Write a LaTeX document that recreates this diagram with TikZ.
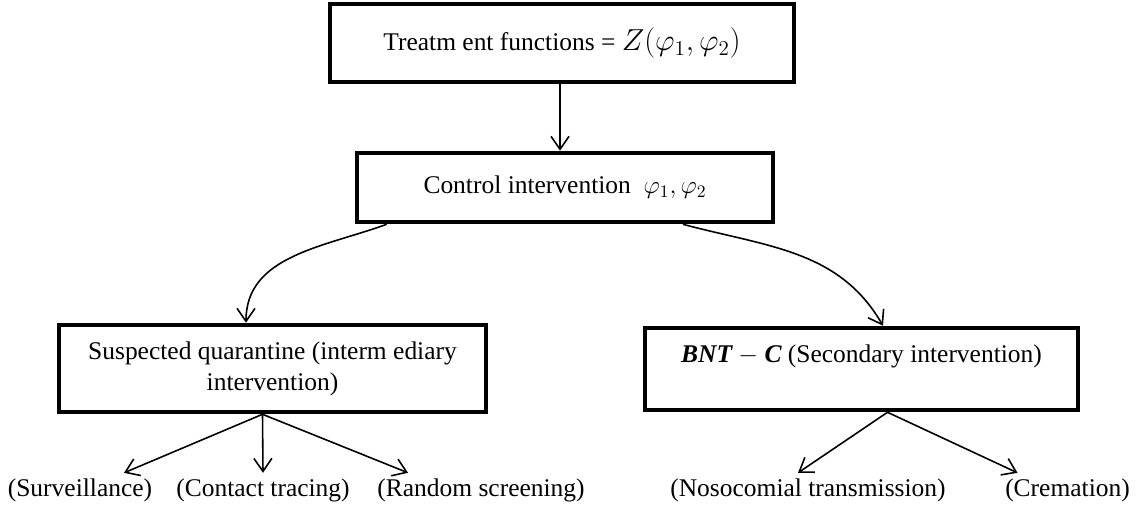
\documentclass[tikz,border=0pt]{standalone}
\usepackage{fontspec}
\setmainfont{Liberation Serif}
\usepackage{amsmath}
\usetikzlibrary{arrows.meta}

\begin{document}
\begin{tikzpicture}[font=\fontsize{14.5}{17.5}\selectfont]

	\tikzset{box/.style = {shape=rectangle,draw,line width=2.6pt,align=center}}
	\tikzset{edge/.style = {-{Straight Barb[length=2.6mm,width=3.6mm]},line width=0.9pt}}
	\tikzset{leaf/.style = {inner sep=3pt}}

	\useasboundingbox (0,0) rectangle (22.84,-10.16);

	% boxes
	\node[box,minimum width=9.28cm,minimum height=1.56cm] (Treat) at (11.24,-0.86) {Treatm ent functions = {\fontsize{18}{20}\selectfont$Z(\varphi_1,\varphi_2)$}};
	\node[box,minimum width=8.32cm,minimum height=1.38cm] (Control) at (11.30,-3.75) {Control intervention \ $\varphi_1,\varphi_2$};
	\node[box,minimum width=8.54cm,minimum height=1.74cm] (Quar) at (5.45,-7.37) {Suspected quarantine (interm ediary\\ intervention)};
	\node[box,minimum width=8.66cm,minimum height=1.64cm] (Second) at (17.23,-7.38) {{\bfseries\itshape BNT} $-$ {\bfseries\itshape C} (Secondary intervention)\\ \mbox{}};

	% leaves
	\node[leaf] (Surv) at (1.60,-9.80) {(Surveillance)};
	\node[leaf] (Contact) at (5.26,-9.80) {(Contact tracing)};
	\node[leaf] (Random) at (9.62,-9.80) {(Random screening)};
	\node[leaf] (Noso) at (16.16,-9.80) {(Nosocomial transmission)};
	\node[leaf] (Crem) at (21.35,-9.80) {(Cremation)};

	\draw[edge] (Treat.south -| 11.20,0) -- (Control.north -| 11.20,0);

	\draw[edge] ([xshift=0.64cm]Control.south west) to[out=200,in=90] ([xshift=-0.53cm]Quar.north);
	\draw[edge] ([xshift=2.36cm]Control.south) to[out=-15,in=120] ([xshift=0.43cm]Second.north);

	\draw[edge] ([xshift=-0.2cm]Quar.south) -- ([xshift=0.88cm]Surv.north);
	\draw[edge] ([xshift=-0.2cm]Quar.south) -- (Contact.north);
	\draw[edge] ([xshift=-0.2cm]Quar.south) -- ([xshift=-1.46cm]Random.north);

	\draw[edge] ([xshift=0.52cm]Second.south) -- ([xshift=-0.2cm]Noso.north);
	\draw[edge] ([xshift=0.52cm]Second.south) -- ([xshift=-1.0cm]Crem.north);

\end{tikzpicture}
\end{document}
